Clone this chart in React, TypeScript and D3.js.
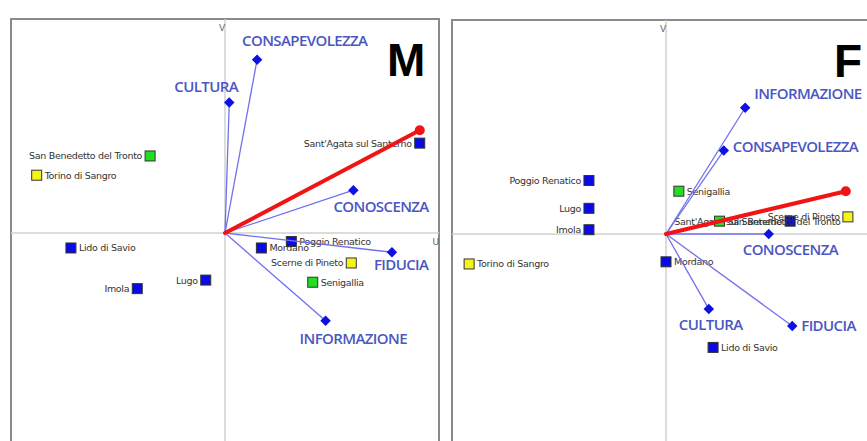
import React from "react";
import * as d3 from "d3";

const width = 867;
const height = 441;

// places (row points) and their group colour
const places = [
  "Sant'Agata sul Santerno",
  "San Benedetto del Tronto",
  "Torino di Sangro",
  "Lido di Savio",
  "Imola",
  "Lugo",
  "Mordano",
  "Poggio Renatico",
  "Scerne di Pineto",
  "Senigallia",
];
const placeGroup = ["blue", "green", "yellow", "blue", "blue", "blue", "blue", "blue", "yellow", "green"];

// variables (column vectors)
const variables = ["CONSAPEVOLEZZA", "CULTURA", "CONOSCENZA", "FIDUCIA", "INFORMAZIONE"];

// M panel coordinates
const mPlaceU = [0.91, -0.35, -0.88, -0.72, -0.41, -0.09, 0.17, 0.31, 0.59, 0.41];
const mPlaceV = [0.42, 0.36, 0.27, -0.07, -0.26, -0.22, -0.07, -0.04, -0.14, -0.23];
const mVarU = [0.15, 0.02, 0.6, 0.78, 0.47];
const mVarV = [0.81, 0.61, 0.2, -0.09, -0.41];
const mRed = [0.91, 0.48];

// F panel coordinates
const fPlaceU = [0.58, 0.25, -0.92, 0.22, -0.36, -0.36, 0.0, -0.36, 0.85, 0.06];
const fPlaceV = [0.06, 0.06, -0.14, -0.53, 0.02, 0.12, -0.13, 0.25, 0.08, 0.2];
const fVarU = [0.27, 0.2, 0.48, 0.59, 0.37];
const fVarV = [0.39, -0.35, 0.0, -0.43, 0.59];
const fRed = [0.84, 0.2];

// layout: which side the place label sits on, and label offsets for variables
const mLabelSide = ["L", "L", "R", "R", "L", "L", "R", "R", "L", "R"];
const fLabelSide = ["L", "R", "R", "R", "L", "L", "R", "L", "L", "R"];
const mVarOffset = [[-15, -14], [-55, -10], [-20, 22], [-18, 18], [-26, 23]];
const fVarOffset = [[9, 1], [-30, 21], [-26, 21], [9, 5], [9, -9]];

const fills: Record<string, string> = { blue: "#0a0ae6", green: "#22dd22", yellow: "#f4f41c" };

type PanelProps = {
  x0: number;
  x1: number;
  y0: number;
  letter: string;
  letterX: number;
  pu: number[];
  pv: number[];
  vu: number[];
  vv: number[];
  red: number[];
  sides: string[];
  offs: number[][];
};

const Panel = ({ x0, x1, y0, letter, letterX, pu, pv, vu, vv, red, sides, offs }: PanelProps) => {
  const x = d3.scaleLinear().domain([-1, 1]).range([x0, x1]);
  const y = d3.scaleLinear().domain([-1, 1]).range([y0 + 428, y0]);
  const ox = x(0);
  const oy = y(0);
  const diamond = d3.symbol().type(d3.symbolDiamond2).size(70)();

  return (
    <g>
      <rect x={x0} y={y0} width={x1 - x0} height={height} fill="#fff" stroke="#8a8a8a" strokeWidth={2} />
      <line x1={ox} x2={ox} y1={y0} y2={height} stroke="#d0d0d0" strokeWidth={1.5} />
      <line x1={x0} x2={x1} y1={oy} y2={oy} stroke="#d0d0d0" strokeWidth={1.5} />
      <text x={ox - 6} y={y0 + 12} fontSize={9} fill="#666" fontFamily="DejaVu Sans">V</text>
      {x(0.97) < width - 8 && (
        <text x={x(0.97)} y={oy + 12} fontSize={9} fill="#666" fontFamily="DejaVu Sans">U</text>
      )}
      <text x={letterX} y={y0 + 57} fontSize={46} fontWeight="bold" fontFamily="Liberation Sans" fill="#000">
        {letter}
      </text>

      {places.map((name, i) => {
        const px = x(pu[i]);
        const py = y(pv[i]);
        const left = sides[i] === "L";
        return (
          <g key={name}>
            <rect x={px - 5} y={py - 5} width={10} height={10} fill={fills[placeGroup[i]]} stroke="#333" strokeWidth={1} />
            <text
              x={left ? px - 8 : px + 8}
              y={py + 3.5}
              textAnchor={left ? "end" : "start"}
              fontSize={9.5}
              fontFamily="DejaVu Sans"
              fill="#333"
              letterSpacing={-0.3}
            >
              {name}
            </text>
          </g>
        );
      })}

      {variables.map((name, i) => {
        const vx = x(vu[i]);
        const vy = y(vv[i]);
        return (
          <g key={name}>
            <line x1={ox} y1={oy} x2={vx} y2={vy} stroke="#7070ee" strokeWidth={1.3} />
            <path d={diamond} transform={`translate(${vx},${vy})`} fill="#1010e0" />
            <text
              x={vx + offs[i][0]}
              y={vy + offs[i][1]}
              fontSize={15}
              fontWeight={600}
              fontFamily="Open Sans"
              fill="#4a56c2"
              letterSpacing={-0.6}
            >
              {name}
            </text>
          </g>
        );
      })}

      <line x1={ox} y1={oy} x2={x(red[0])} y2={y(red[1])} stroke="#f21414" strokeWidth={4} strokeLinecap="round" />
      <circle cx={x(red[0])} cy={y(red[1])} r={5} fill="#f21414" />
    </g>
  );
};

export default function App() {
  return (
    <svg width={width} height={height} style={{ position: "absolute", left: 0, top: 0, background: "#fff" }}>
      <Panel
        x0={11}
        x1={439}
        y0={19}
        letter="M"
        letterX={387}
        pu={mPlaceU}
        pv={mPlaceV}
        vu={mVarU}
        vv={mVarV}
        red={mRed}
        sides={mLabelSide}
        offs={mVarOffset}
      />
      <Panel
        x0={452}
        x1={880}
        y0={20}
        letter="F"
        letterX={834}
        pu={fPlaceU}
        pv={fPlaceV}
        vu={fVarU}
        vv={fVarV}
        red={fRed}
        sides={fLabelSide}
        offs={fVarOffset}
      />
    </svg>
  );
}
